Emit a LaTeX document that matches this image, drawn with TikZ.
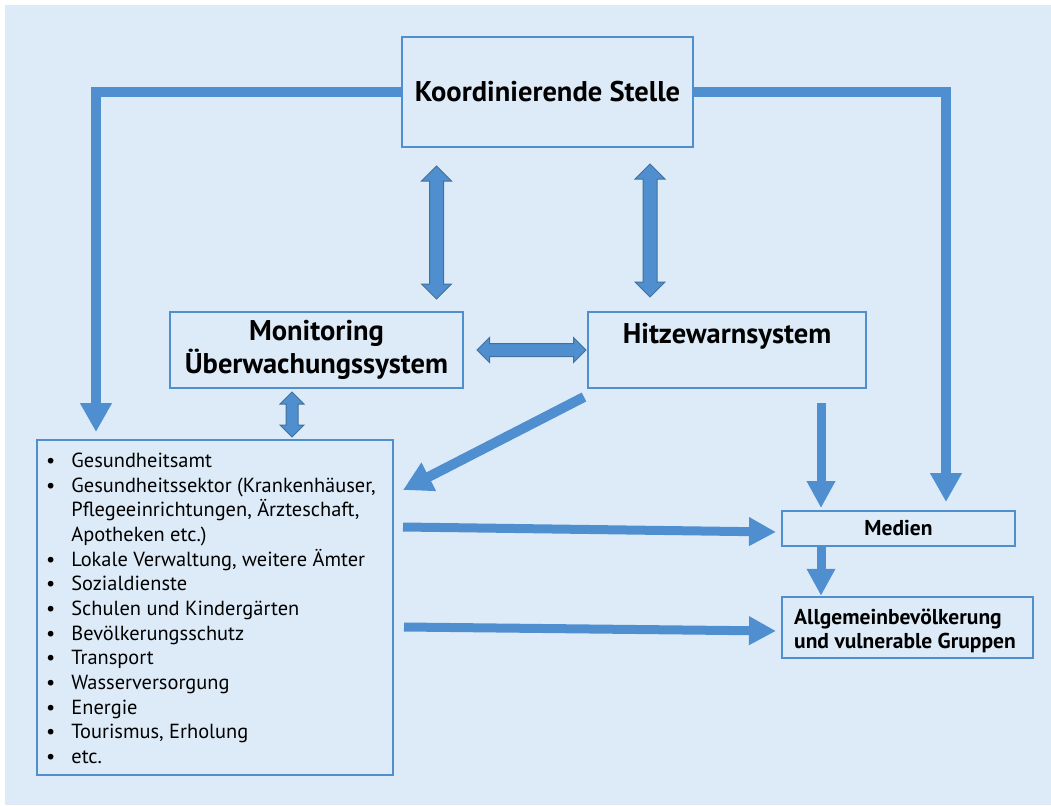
\documentclass[tikz,border=0pt]{standalone}
\usepackage{fontspec}
\setmainfont{PT Sans}
\usetikzlibrary{arrows.meta,shapes.arrows}
\definecolor{bgblue}{HTML}{DDEBF8}
\definecolor{lineblue}{HTML}{4F8FCF}
\definecolor{edgeblue}{HTML}{41719C}
\tikzset{
  box/.style={draw=lineblue, line width=2.5pt, fill=bgblue, inner sep=0pt, align=center},
  thick arrow/.style={draw=lineblue, line width=10pt, -{Triangle[width=30pt,length=29pt]}},
  mid arrow/.style={draw=lineblue, line width=9pt, -{Triangle[width=27pt,length=27pt]}},
  dbl/.style={double arrow, draw=edgeblue, line width=1pt, fill=lineblue, inner xsep=0pt, inner ysep=6.5pt, double arrow head extend=8pt, double arrow tip angle=90},
  head/.style={font=\fontsize{28.5}{33}\selectfont\bfseries},
  small head/.style={font=\fontsize{21.5}{24}\selectfont\bfseries},
}
\begin{document}
\begin{tikzpicture}[x=1pt,y=-1pt]
\useasboundingbox (0,0) rectangle (1051,805);
\fill[bgblue] (5,5) rectangle (1051,805);
% boxes
\node[box, head, minimum width=291, minimum height=110] (koord) at (547.5,92) {Koordinierende Stelle};
\node[box, head, minimum width=293, minimum height=76] (moni) at (316.5,350) {Monitoring\\Überwachungssystem};
\node[box, minimum width=278, minimum height=76] (hitze) at (727,350) {};
\node[head, anchor=base] (hitzet) at (727,343) {Hitzewarnsystem};
\node[box, minimum width=356, minimum height=335] (list) at (215,607.5) {};
\node[anchor=north west, inner sep=0pt, font=\fontsize{20.4}{24.67}\selectfont] (listt) at (46,450) {%
\begin{tabular}{@{}l@{\hspace{16pt}}l@{}}
\textbullet & Gesundheitsamt\\
\textbullet & Gesundheitssektor (Krankenhäuser,\\
 & Pflegeeinrichtungen, Ärzteschaft,\\
 & Apotheken etc.)\\
\textbullet & Lokale Verwaltung, weitere Ämter\\
\textbullet & Sozialdienste\\
\textbullet & Schulen und Kindergärten\\
\textbullet & Bevölkerungsschutz\\
\textbullet & Transport\\
\textbullet & Wasserversorgung\\
\textbullet & Energie\\
\textbullet & Tourismus, Erholung\\
\textbullet & etc.
\end{tabular}};
\node[box, small head, minimum width=233, minimum height=35] (medien) at (898.5,528.5) {Medien};
\node[box, minimum width=251, minimum height=61] (allg) at (907.5,627.5) {};
\node[small head, anchor=west, align=left, inner sep=0pt] (allgt) at (794,631) {Allgemeinbevölkerung\\und vulnerable Gruppen};
% coordinates
\coordinate (kl) at (96,432);
\coordinate (kr) at (946,502);
\coordinate (d1) at (584,397);
\coordinate (d2) at (403,490);
\coordinate (h1) at (821,403);
\coordinate (h2) at (821,508);
\coordinate (m1) at (403,527);
\coordinate (m2) at (776,532);
\coordinate (a1) at (404,627);
\coordinate (a2) at (776,631);
% thick connectors
\draw[thick arrow] (koord.west) -| (kl);
\draw[thick arrow] (koord.east) -| (kr);
\draw[thick arrow] (d1) -- (d2);
\draw[mid arrow] (h1) -- (h2);
\draw[mid arrow] (medien.south -| h1) -- (allg.north -| h1);
\draw[mid arrow] (m1) -- (m2);
\draw[mid arrow] (a1) -- (a2);
% double arrows
\node[dbl, rotate=90, minimum height=133, minimum width=29] (dA) at (436.5,232.5) {};
\node[dbl, rotate=90, minimum height=133, minimum width=29] (dB) at (650,230.5) {};
\node[dbl, inner ysep=6pt, minimum height=109, minimum width=24, double arrow head extend=6pt] (dC) at (531.5,350) {};
\node[dbl, inner ysep=5.5pt, rotate=90, minimum height=45, minimum width=23, double arrow head extend=6pt] (dD) at (292,414.5) {};
\end{tikzpicture}
\end{document}
